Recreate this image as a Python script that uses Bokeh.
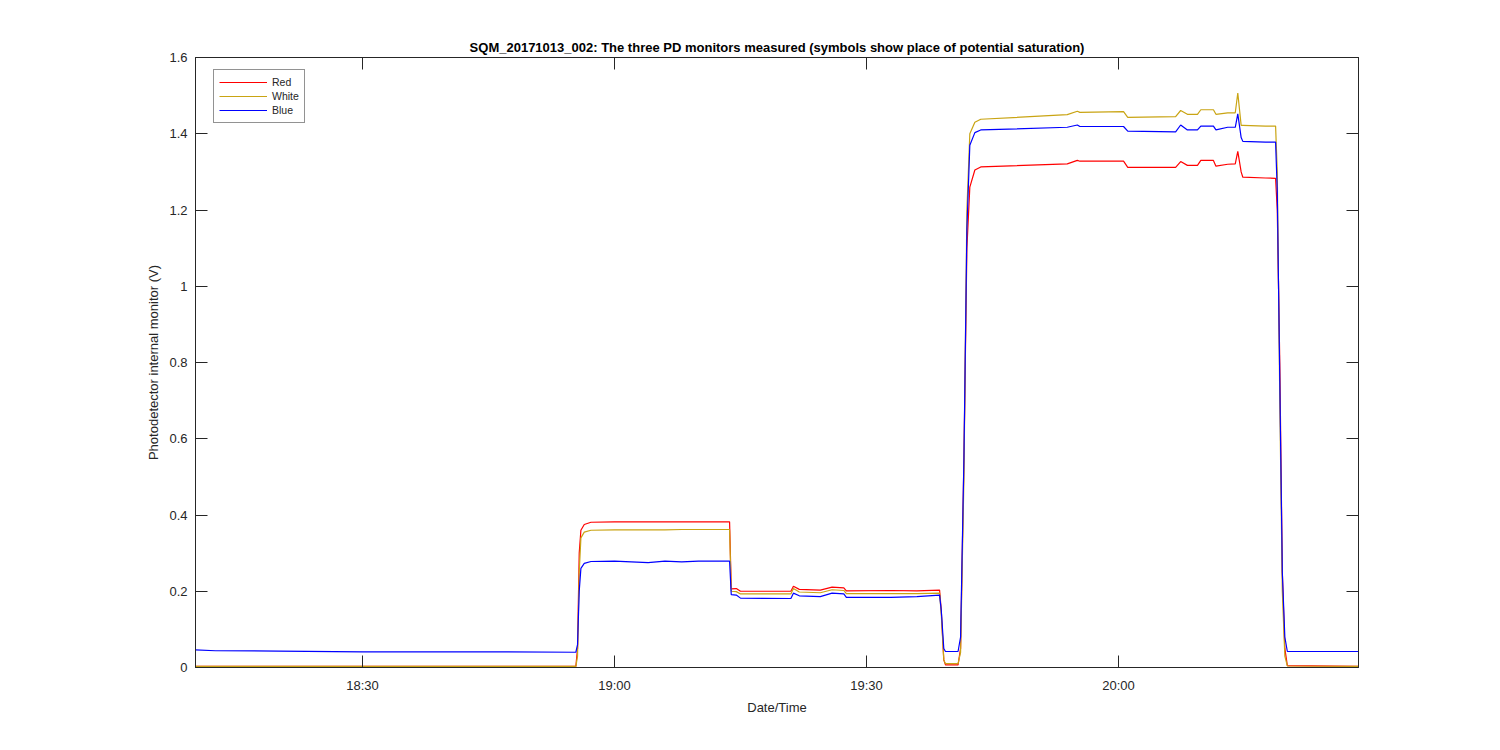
import pandas as pd
from bokeh.plotting import figure
from bokeh.models import (ColumnDataSource, Range1d, FixedTicker, CustomJSTickFormatter,
                          LinearAxis, DatetimeAxis, Legend, LegendItem)
from bokeh.embed import file_html
from bokeh.resources import INLINE

# ---------------- data (minutes after 18:00 on 2017-10-13) ----------------
base_time = "2017-10-13 18:00:00"
minutes = [10.1, 12.5, 20.0, 30.0, 45.0, 55.4, 55.6, 55.8, 56.0, 56.4, 57.2,
           60.0, 62.0, 64.0, 66.0, 68.0, 70.0, 73.7,
           73.9, 74.5, 75.0, 81.0, 81.3, 82.0, 84.5, 85.9, 87.3, 87.6, 92.9, 96.0, 98.7,
           98.9, 99.2, 99.4, 100.9,
           101.2, 101.6, 101.95, 102.3, 102.9, 103.6,
           113.9, 115.1, 115.4, 120.6, 121.1, 126.8, 127.4, 128.2, 129.4, 129.8,
           131.3, 131.6, 133.0, 133.9, 134.2, 134.6, 134.8, 137.5, 138.7,
           138.9, 139.2, 139.5, 139.8, 140.1, 148.6]
red = [0.003, 0.003, 0.003, 0.003, 0.003, 0.003, 0.05, 0.30, 0.36, 0.375, 0.381,
       0.382, 0.382, 0.382, 0.382, 0.382, 0.382, 0.382,
       0.206, 0.207, 0.200, 0.200, 0.213, 0.205, 0.203, 0.211, 0.209, 0.201, 0.202, 0.201, 0.203,
       0.15, 0.02, 0.007, 0.007,
       0.05, 0.55, 1.10, 1.26, 1.305, 1.313,
       1.321, 1.330, 1.328, 1.328, 1.312, 1.312, 1.327, 1.317, 1.317, 1.330,
       1.330, 1.315, 1.320, 1.321, 1.354, 1.300, 1.286, 1.284, 1.283,
       1.20, 0.80, 0.25, 0.05, 0.005, 0.003]
white = [0.003, 0.003, 0.003, 0.003, 0.003, 0.003, 0.03, 0.25, 0.34, 0.355, 0.360,
         0.361, 0.361, 0.361, 0.361, 0.362, 0.362, 0.362,
         0.200, 0.199, 0.193, 0.193, 0.207, 0.198, 0.196, 0.204, 0.202, 0.194, 0.194, 0.194, 0.195,
         0.14, 0.02, 0.010, 0.010,
         0.04, 0.50, 1.20, 1.40, 1.430, 1.438,
         1.450, 1.459, 1.456, 1.458, 1.443, 1.445, 1.461, 1.451, 1.451, 1.463,
         1.463, 1.451, 1.455, 1.455, 1.507, 1.422, 1.422, 1.420, 1.420,
         1.30, 0.70, 0.20, 0.03, 0.004, 0.003]
blue = [0.046, 0.044, 0.043, 0.041, 0.041, 0.040, 0.06, 0.20, 0.26, 0.273, 0.278,
        0.279, 0.277, 0.275, 0.279, 0.277, 0.279, 0.279,
        0.191, 0.190, 0.182, 0.181, 0.195, 0.188, 0.186, 0.195, 0.193, 0.184, 0.184, 0.186, 0.190,
        0.15, 0.05, 0.042, 0.042,
        0.08, 0.55, 1.15, 1.37, 1.403, 1.410,
        1.417, 1.423, 1.419, 1.419, 1.407, 1.405, 1.423, 1.410, 1.410, 1.420,
        1.420, 1.410, 1.417, 1.417, 1.452, 1.390, 1.380, 1.378, 1.378,
        1.25, 0.75, 0.25, 0.08, 0.042, 0.042]

series_names = ["Red", "White", "Blue"]
series_colors = ["#ff0000", "#c9a413", "#0000ff"]
x_tick_labels = ["18:30", "19:00", "19:30", "20:00"]
y_ticks = [0, 0.2, 0.4, 0.6, 0.8, 1.0, 1.2, 1.4, 1.6]
x_limits_min = [10.12, 148.57]

title_text = ("SQM_20171013_002: The three PD monitors measured "
              "(symbols show place of potential saturation)")

# ---------------- build ----------------
t0 = pd.Timestamp(base_time)
times = [t0 + pd.Timedelta(minutes=m) for m in minutes]
src = ColumnDataSource(dict(t=times, red=red, white=white, blue=blue))

epoch = pd.Timestamp("1970-01-01")
def to_ms(ts):
    return (ts - epoch) / pd.Timedelta(milliseconds=1)

x_tick_ms = [to_ms(pd.Timestamp("2017-10-13 " + lab)) for lab in x_tick_labels]

FONT = "Liberation Sans"
AX = "#262626"

p = figure(frame_width=1163, frame_height=610,
           x_axis_type="datetime",
           x_range=Range1d(t0 + pd.Timedelta(minutes=x_limits_min[0]),
                           t0 + pd.Timedelta(minutes=x_limits_min[1])),
           y_range=Range1d(0, 1.6),
           output_backend="svg", toolbar_location=None,
           min_border_left=195, min_border_right=134,
           min_border_top=57, min_border_bottom=75)
p.background_fill_color = "white"
p.border_fill_color = "white"
p.outline_line_color = AX
p.xgrid.visible = False
p.ygrid.visible = False

p.title.text = title_text
p.title.align = "center"
p.title.text_font = FONT
p.title.text_font_size = "13px"
p.title.text_font_style = "bold"
p.title.text_color = "black"
p.title.standoff = 5

xfmt = CustomJSTickFormatter(code="""
const d = new Date(tick);
const h = d.getUTCHours(), m = d.getUTCMinutes();
return h + ":" + (m < 10 ? "0" + m : String(m));
""")
yfmt = CustomJSTickFormatter(code="return String(Math.round(tick*10)/10);")
blankfmt = CustomJSTickFormatter(code="return '';")

def style_axis(ax):
    ax.axis_line_color = AX
    ax.major_tick_line_color = AX
    ax.minor_tick_line_color = None
    ax.major_tick_in = 12
    ax.major_tick_out = 0
    ax.major_label_text_font = FONT
    ax.major_label_text_font_size = "13px"
    ax.major_label_text_color = AX
    ax.axis_label_text_font = FONT
    ax.axis_label_text_font_size = "13px"
    ax.axis_label_text_font_style = "normal"
    ax.axis_label_text_color = AX

xb = p.xaxis[0]
style_axis(xb)
xb.ticker = FixedTicker(ticks=x_tick_ms)
xb.formatter = xfmt
xb.axis_label = "Date/Time"
xb.major_label_standoff = 10
xb.axis_label_standoff = 4

yl = p.yaxis[0]
style_axis(yl)
yl.ticker = FixedTicker(ticks=y_ticks)
yl.formatter = yfmt
yl.axis_label = "Photodetector internal monitor (V)"
yl.major_label_standoff = 8
yl.axis_label_standoff = 5

xt = DatetimeAxis(ticker=FixedTicker(ticks=x_tick_ms), formatter=blankfmt)
style_axis(xt)
xt.major_label_standoff = 0
p.add_layout(xt, "above")

yr = LinearAxis(ticker=FixedTicker(ticks=y_ticks), formatter=blankfmt)
style_axis(yr)
yr.major_label_standoff = 0
p.add_layout(yr, "right")

renderers = []
for name, col, key in zip(series_names, series_colors, ["red", "white", "blue"]):
    r = p.line("t", key, source=src, line_color=col, line_width=1.2)
    renderers.append(r)

legend = Legend(items=[LegendItem(label=n, renderers=[r]) for n, r in zip(series_names, renderers)],
                location=(18, 544.5), margin=0, padding=5, spacing=0,
                glyph_width=48, glyph_height=14, label_height=14, label_standoff=5,
                label_text_font=FONT, label_text_font_size="10.5px", label_text_color=AX,
                border_line_color=AX, border_line_width=1,
                background_fill_color="white", background_fill_alpha=1.0)
p.add_layout(legend, "center")

open("out.html", "w").write(file_html(p, INLINE))
